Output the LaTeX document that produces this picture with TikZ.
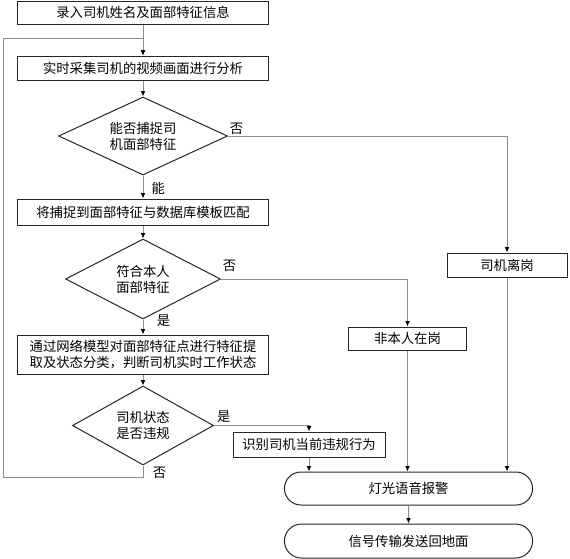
\documentclass[tikz,border=0pt]{standalone}
\usepackage{fontspec}
\newfontfamily\cjk{Noto Sans CJK SC}
\usetikzlibrary{positioning,calc,arrows.meta,shapes.geometric,shapes.misc}

\begin{document}
\begin{tikzpicture}[x=0.75pt,y=-0.75pt,node distance=12pt,
                    font=\cjk\fontsize{10}{12}\selectfont]
    \tikzstyle{proc}=[rectangle,
                      draw=black!85,
                      line width=0.75pt,
                      minimum width=188pt,
                      minimum height=18pt,
                      inner sep=2pt,
                      align=center,
                      text=black]
    \tikzset{judge/.style={diamond, draw=black!85, line width=0.75pt,
                           aspect=2, inner sep=0pt, align=center}};
    \tikzset{term/.style={rounded rectangle, draw=black!85, line width=0.75pt,
                          minimum width=192.75pt, minimum height=24.75pt}};
    \tikzset{lbl/.style={inner sep=1pt}};

    \useasboundingbox (0,0) rectangle (570,558);

    \node[proc, minimum height=17.25pt] (lr) at (143,12.5) {录入司机姓名及面部特征信息};
    \node[proc] (cj) [below = 23.25pt of lr] {实时采集司机的视频画面进行分析};
    \node[judge, minimum width=126.75pt, minimum height=58.5pt] (bz) [below = 12pt of cj]
          {能否捕捉司\\机面部特征};
    \node[proc, minimum height=19.5pt] (pp) [below = 17.25pt of bz] {将捕捉到面部特征与数据库模板匹配};
    \node[judge, minimum width=116.25pt, minimum height=60pt] (fh) [below = 9.75pt of pp]
          {符合本人\\面部特征};
    \node[proc, minimum height=29.25pt] (fl) [below = 11.25pt of fh]
          {通过网络模型对面部特征点进行特征提\\取及状态分类，判断司机实时工作状态};
    \node[judge, minimum width=105.75pt, minimum height=59.25pt] (wg) [below = 8.25pt of fl]
          {司机状态\\是否违规};

    \node[proc, minimum width=90pt] (lg) at (507,265) {司机离岗};
    \node[proc, minimum width=89pt, minimum height=17.25pt] (fbr) at (407.5,338.5) {非本人在岗};
    \node[proc, minimum width=114pt, minimum height=18.75pt] (sb) at (309,444.5) {识别司机当前违规行为};
    \node[term] (bj) at (408.5,488.5) {灯光语音报警};
    \node[term, minimum height=25.5pt] (cs) [below = 13.5pt of bj] {信号传输发送回地面};

    \coordinate (lpbot) at (3,477);
    \coordinate (lptop) at (3,38);

    \tikzset{edgestyle/.style={draw=black!45, line width=0.75pt,
                               -{Latex[length=4pt,width=3.5pt,black]}}}

    \path (lr) edge [edgestyle] (cj)
          (cj) edge [edgestyle] (bz)
          (bz) edge [edgestyle] node[lbl, right=5pt, pos=0.55] {能} (pp)
          (pp) edge [edgestyle] (fh)
          (fh) edge [edgestyle] node[lbl, right=9pt, pos=0.05] {是} (fl)
          (fl) edge [edgestyle] (wg)
          (bj) edge [edgestyle] (cs);

    \draw[edgestyle] (bz.east) -| node[lbl, above right, pos=0] {否} (lg.north);
    \draw[edgestyle] (fh.east) -| node[lbl, above right=4pt and 0pt, pos=0] {否} (fbr.north);
    \draw[edgestyle] (wg.east) -| node[lbl, above right=1pt and 1pt, pos=0] {是} (sb.north);
    \draw[edgestyle] (wg.south) |- node[lbl, right=6pt, pos=0.3] {否} (lpbot)
          -- (lptop) -| (cj.north);

    \draw[edgestyle] (sb.south) -- (sb.south |- bj.north);
    \draw[edgestyle] (fbr.south) -- (fbr.south |- bj.north);
    \draw[edgestyle] (lg.south) -- (lg.south |- bj.north);
\end{tikzpicture}
\end{document}
